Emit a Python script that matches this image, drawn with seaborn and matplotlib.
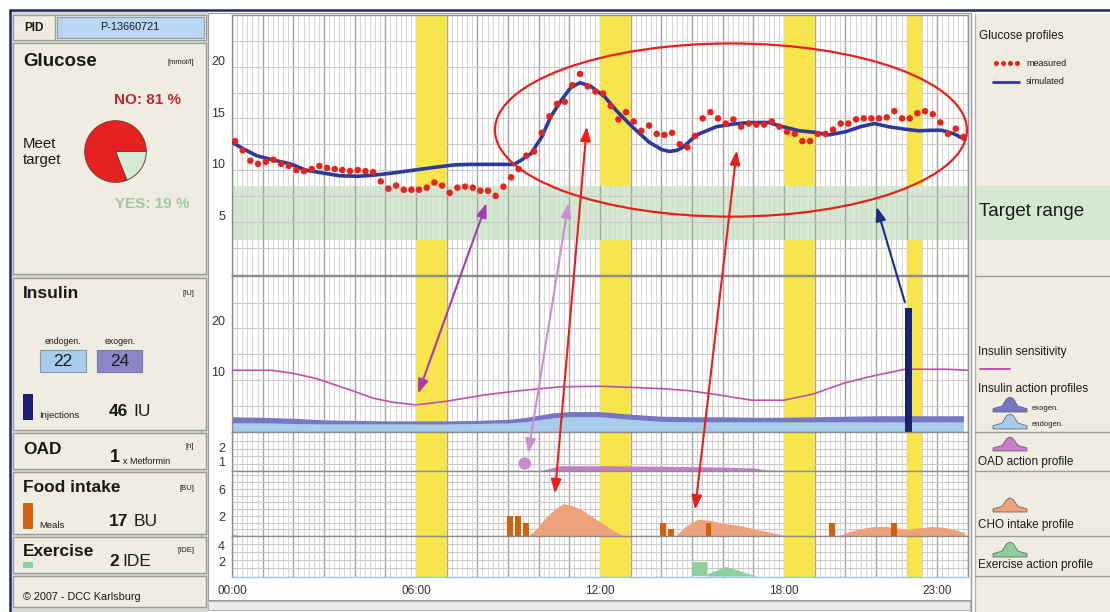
import numpy as np
import matplotlib
matplotlib.use("Agg")
import matplotlib.pyplot as plt
import matplotlib.transforms as mtrans
import seaborn as sns
from matplotlib.patches import Rectangle, Ellipse, Polygon, ConnectionPatch, ArrowStyle
from matplotlib.lines import Line2D

sns.set_theme(style="white")
plt.rcParams["font.family"] = ["Liberation Sans", "DejaVu Sans"]

# ---------------- data ----------------
tick_hours = [0, 6, 12, 18, 23]
tick_labels = ["00:00", "06:00", "12:00", "18:00", "23:00"]

period_start = [6, 12, 18, 22]
period_end = [7, 13, 19, 22.5]

target_low, target_high = 3.2, 8.5

# CGM readings every 15 minutes
meas_time = np.arange(96) * 0.25 + 0.1
meas_glucose = [
    12.8, 11.9, 10.9, 10.6, 10.8, 11.0, 10.6, 10.4, 10.0, 9.9, 10.1, 10.4,
    10.2, 10.1, 10.0, 9.9, 10.0, 9.9, 9.8, 8.9, 8.2, 8.5, 8.1, 8.1,
    8.1, 8.3, 8.8, 8.5, 7.8, 8.3, 8.4, 8.3, 8.0, 8.0, 7.5, 8.4,
    9.3, 10.1, 11.4, 11.8, 13.6, 15.2, 16.4, 16.6, 18.2, 19.3, 18.1, 17.6,
    17.4, 16.2, 14.9, 15.6, 14.7, 13.8, 14.3, 13.5, 13.4, 13.6, 12.5, 12.2,
    13.3, 15.0, 15.6, 15.0, 14.5, 14.9, 14.2, 14.5, 14.4, 14.4, 14.7, 14.2,
    13.7, 13.5, 12.8, 12.8, 13.5, 13.5, 13.9, 14.5, 14.5, 14.9, 15.0, 15.0,
    15.0, 15.1, 15.7, 15.0, 15.0, 15.5, 15.7, 15.4, 14.6, 13.5, 14.0, 13.2,
]

sim_time = [0.05, 0.4, 0.8, 1.3, 1.9, 2.4, 3.0, 3.5, 4.1, 4.6, 5.2, 5.7, 6.2, 6.7,
            7.25, 7.8, 8.35, 9.2, 9.45, 9.75, 10.1, 10.4, 10.75, 11.05, 11.35,
            11.7, 12.15, 12.55, 13.05, 13.6, 14.0, 14.25, 14.5, 14.7, 15.15, 15.8,
            16.35, 16.9, 17.5, 17.95, 18.5, 19.0, 19.45, 20.0, 20.5, 20.95, 21.4,
            21.95, 22.4, 22.8, 23.15, 23.55, 23.9]
sim_glucose = [12.6, 12.0, 11.4, 11.0, 10.6, 10.0, 9.7, 9.45, 9.4, 9.5, 9.7, 9.9,
               10.1, 10.3, 10.5, 10.55, 10.55, 10.55, 11.0, 11.6, 13.2, 15.2, 16.8,
               18.0, 18.45, 18.1, 17.1, 15.7, 14.2, 12.7, 12.0, 11.8, 11.9, 12.2,
               13.4, 14.2, 14.45, 14.6, 14.6, 14.2, 13.8, 13.65, 13.4, 13.7, 14.2,
               14.5, 14.2, 13.95, 13.8, 13.85, 13.85, 13.5, 12.95]

sens_time = [0, 1.3, 2.0, 2.75, 3.85, 4.6, 5.25, 6.0, 7.0, 8.2, 9.3, 10.7, 12.0,
             13.0, 14.0, 14.9, 15.9, 16.95, 18.0, 18.95, 19.95, 20.9, 21.95, 23.3, 24]
sens_value = [11.9, 11.9, 11.3, 10.3, 8.1, 6.5, 5.7, 5.2, 5.9, 7.1, 7.9, 8.7, 8.8,
              8.6, 8.35, 7.95, 7.1, 6.1, 6.1, 7.3, 9.4, 10.8, 12.1, 12.1, 11.9]

ins_time = [0, 1, 2, 3, 4, 5, 6, 7, 8, 9, 9.5, 10, 10.5, 11, 12, 13, 14, 15, 16,
            17, 18, 19, 20, 21, 22, 23, 23.85]
ins_endogen = [1.7, 1.7, 1.6, 1.5, 1.5, 1.5, 1.5, 1.5, 1.6, 1.7, 1.9, 2.3, 2.7,
               2.9, 2.9, 2.4, 2.0, 1.9, 1.9, 1.9, 1.9, 1.9, 1.9, 1.9, 1.9, 1.9, 1.9]
ins_exogen = [1.2, 1.1, 1.0, 0.8, 0.7, 0.6, 0.6, 0.6, 0.6, 0.7, 0.8, 0.9, 1.0,
              1.0, 1.0, 1.0, 1.0, 1.0, 1.0, 0.9, 0.9, 1.0, 1.1, 1.2, 1.2, 1.2, 1.2]

inj_time = [21.95]
inj_dose = [24]

oad_time = [9.55]
oad_dose = [1]
oad_prof_time = [10.0, 10.7, 12.0, 14.0, 16.0, 17.0, 17.5, 18.8]
oad_prof = [0.5, 0.85, 0.85, 0.82, 0.76, 0.7, 0.56, 0.5]

meal_time = [8.97, 9.23, 9.49, 13.96, 14.22, 15.45, 19.47, 21.49]
meal_bu = [3, 3, 2, 2, 1, 2, 2, 2]

cho_time = [0.0, 0.3,
            9.65, 9.9, 10.2, 10.5, 10.8, 11.1, 11.4, 11.7, 12.0, 12.3, 12.6, 12.8,
            14.45, 14.8, 15.2, 15.6, 16.0, 16.5, 17.0, 17.5, 18.1,
            19.75, 20.1, 20.5, 20.9, 21.3, 21.7, 22.0, 22.4, 22.8, 23.2, 23.6, 23.9]
cho_value = [0.35, 0.0,
             0.0, 0.9, 2.6, 3.9, 4.8, 4.5, 3.9, 3.0, 2.1, 1.2, 0.4, 0.0,
             0.0, 1.5, 2.5, 2.3, 1.9, 1.6, 1.1, 0.6, 0.0,
             0.0, 0.6, 1.1, 1.4, 1.4, 1.2, 1.0, 1.2, 1.4, 1.3, 0.9, 0.5]

ex_time = [15.0]
ex_ide = [1.7]
ex_prof_time = [15.5, 16.1, 17.1]
ex_prof = [0.3, 1.2, 0.0]

# ---------------- colours ----------------
C_MEAS = "#e8221c"
C_SIM = "#2b3a9c"
C_YELLOW = "#f6e54c"
C_TARGET = "#d3e9d0"
C_SENS = "#c24fb0"
C_EXO = "#7676c4"
C_ENDO = "#a8cdec"
C_INJ = "#1b2370"
C_OAD = "#c47ccb"
C_MEAL = "#d2620e"
C_CHO = "#eea27c"
C_EX = "#8dcf9d"
C_BEIGE = "#efede2"
C_EDGE = "#9c9c96"
C_TXT = "#1a1a1a"

# ---------------- figure helpers (pixel layout, origin top-left) ----------------
W, H = 1110, 612
fig = plt.figure(figsize=(W / 100, H / 100), dpi=100, facecolor="white")


def fx(x):
    return x / W


def fy(y):
    return 1 - y / H


def rect(x0, y0, x1, y1, fc, ec="none", lw=0.0, z=-2):
    fig.add_artist(Rectangle((fx(x0), fy(y1)), (x1 - x0) / W, (y1 - y0) / H,
                             transform=fig.transFigure, facecolor=fc,
                             edgecolor=ec, linewidth=lw, zorder=z))


def hline(x0, x1, y, color, lw=1.0, z=-1):
    fig.add_artist(Line2D([fx(x0), fx(x1)], [fy(y), fy(y)], transform=fig.transFigure,
                          color=color, lw=lw, zorder=z))


def vline(x, y0, y1, color, lw=1.0, z=-1):
    fig.add_artist(Line2D([fx(x), fx(x)], [fy(y0), fy(y1)], transform=fig.transFigure,
                          color=color, lw=lw, zorder=z))


def txt(x, y, s, size=8, weight="normal", color=C_TXT, ha="left", va="center", **kw):
    fig.text(fx(x), fy(y), s, fontsize=size, fontweight=weight, color=color,
             ha=ha, va=va, zorder=5, **kw)


def hump(x0, y0, x1, y1, color):
    shape = [(0, 0), (0, 0.22), (0.27, 0.4), (0.4, 0.88), (0.5, 1.0), (0.6, 0.88),
             (0.73, 0.4), (1, 0.22), (1, 0)]
    pts = [(fx(x0 + u * (x1 - x0)), fy(y1 - v * (y1 - y0))) for u, v in shape]
    fig.add_artist(Polygon(pts, closed=True, transform=fig.transFigure,
                           facecolor=color, edgecolor="#6a6a6a", lw=0.6, zorder=2))


# ---------------- frame and side columns ----------------
rect(10, 11, 208, 612, "#d8d8d2", z=-3)
rect(208, 13, 971, 600, "white", ec="#9a9a9a", lw=0.8, z=-2.5)
rect(975, 14, 1110, 612, C_BEIGE, z=-2)
vline(971, 14, 612, "#9a9a9a", lw=1.0)
vline(975, 14, 612, "#b4b4ae", lw=1.0)
hline(10, 1110, 10, "#1f2a6e", lw=1.8)
vline(10, 10, 612, "#1f2a6e", lw=1.8)
rect(208, 601, 970, 610, "#ececec", ec="#b5b5b5", lw=0.8)
for yy in [276, 432, 471, 536, 576]:
    hline(975, 1110, yy, "#9c9c96", lw=1.0)

# left column boxes
for (y0, y1) in [(15, 40), (43, 274), (278, 430), (433, 469), (472, 534), (537, 573), (576, 607)]:
    rect(13, y0, 206, y1, C_BEIGE, ec=C_EDGE, lw=1.0)
rect(57, 17, 204, 38, "#b9d6f2", ec="#8aa0b8", lw=0.8, z=-1.5)
vline(55, 15, 40, C_EDGE, lw=1.0)

txt(34, 28, "PID", size=8.5, weight="bold", ha="center")
txt(130, 27, "P-13660721", size=7.8, ha="center")

txt(23, 61, "Glucose", size=13.5, weight="bold")
txt(194, 62, "[mmol/l]", size=5.5, ha="right")
txt(148, 100, "NO: 81 %", size=11, weight="bold", color="#c4262e", ha="center")
txt(23, 144, "Meet", size=10.8)
txt(23, 160, "target", size=10.8)
txt(152, 204, "YES: 19 %", size=11, weight="bold", color="#a3c7a3", ha="center")

ax_pie = fig.add_axes([fx(77), fy(190), 77 / W, 77 / H])
ax_pie.pie([19, 81], colors=["#d7ebd3", "#e42320"], startangle=0, counterclock=False,
           wedgeprops=dict(edgecolor="#7a3a30", linewidth=0.7))

txt(23, 293, "Insulin", size=12.5, weight="bold")
txt(194, 293, "[IU]", size=5.5, ha="right")
txt(63, 342, "endogen.", size=6.3, ha="center")
txt(120, 342, "exogen.", size=6.3, ha="center")
rect(40, 350, 86, 372, C_ENDO, ec="#8a9aa8", lw=0.8, z=-1.5)
rect(97, 350, 142, 372, "#8c86c8", ec="#7a7aa0", lw=0.8, z=-1.5)
txt(63, 361, "22", size=12.5, ha="center")
txt(120, 361, "24", size=12.5, ha="center")
rect(23, 394, 33, 420, C_INJ, z=-1.5)
txt(39, 415, "Injections", size=6.8)
txt(109, 412, "46", size=12.5, weight="bold")
txt(133, 412, "IU", size=12.5)

txt(23, 450, "OAD", size=12.5, weight="bold")
txt(110, 458, "1", size=13, weight="bold")
txt(123, 461, "x Metformin", size=6.5)
txt(185, 447, "[n]", size=5.5)

txt(23, 488, "Food intake", size=12.5, weight="bold")
txt(194, 488, "[BU]", size=5.5, ha="right")
rect(23, 503, 33, 529, C_MEAL, z=-1.5)
txt(39, 525, "Meals", size=6.8)
txt(109, 521, "17", size=12.5, weight="bold")
txt(134, 521, "BU", size=12.5)

txt(23, 551, "Exercise", size=12.5, weight="bold")
txt(109, 562, "2", size=12.5, weight="bold")
txt(122, 562, "IDE", size=12.5)
txt(194, 551, "[IDE]", size=5.5, ha="right")
rect(23, 562, 33, 568, C_EX, z=-1.5)

txt(23, 597, "\u00a9 2007 - DCC Karlsburg", size=7.8)

# ---------------- chart panels ----------------
AX_L, AX_R = 232, 968


def panel(y0, y1, share=None):
    return fig.add_axes([fx(AX_L), fy(y1), (AX_R - AX_L) / W, (y1 - y0) / H], sharex=share)


ax_glu = panel(15, 275)
ax_ins = panel(276, 432, ax_glu)
ax_oad = panel(432, 471, ax_glu)
ax_food = panel(471, 536, ax_glu)
ax_ex = panel(536, 577, ax_glu)
panels = [ax_glu, ax_ins, ax_oad, ax_food, ax_ex]

ylims = [(-0.15, 25.0), (-0.05, 30.15), (0.5, 3.1), (0.0, 9.65), (-0.12, 5.0)]
major_y = [[5, 10, 15, 20], [10, 20], [1, 2], [2, 6], [2, 4]]
minor_y = [[2.5, 7.5, 12.5, 17.5, 22.5], [5, 15, 25], [1.5, 2.5],
           [1, 3, 4, 5, 7, 8, 9], [1, 3]]
label_shift_px = [4.6, 6.8, 0.0, 4.5, -3.0]

for ax, yl, my, mny, dy in zip(panels, ylims, major_y, minor_y, label_shift_px):
    ax.set_facecolor("white")
    ax.set_ylim(*yl)
    ax.set_yticks(my)
    ax.set_yticks(mny, minor=True)
    ax.set_axisbelow(True)
    ax.grid(which="major", axis="x", color="#a4a4a4", lw=1.0)
    ax.grid(which="minor", axis="x", color="#d6d6d6", lw=0.7)
    ax.grid(which="both", axis="y", color="#c9c9c9", lw=0.8)
    ax.tick_params(which="both", length=0, labelleft=False, labelbottom=False)
    for s in ax.spines.values():
        s.set_color("#8c8c8c")
        s.set_linewidth(1.0)
    for v in my:
        ax.annotate(str(v), xy=(0, v), xycoords=("axes fraction", "data"),
                    xytext=(-5, dy * 0.72), textcoords="offset points",
                    ha="right", va="center", fontsize=9, color="#333333",
                    annotation_clip=False)

ax_glu.set_xticks(np.arange(0, 25, 1))
ax_glu.set_xticks(np.arange(0, 24.01, 1 / 6), minor=True)
ax_glu.set_xticklabels([tick_labels[tick_hours.index(h)] if h in tick_hours else ""
                        for h in range(25)])
ax_ex.tick_params(axis="x", which="major", length=4, color="#8c8c8c",
                  labelbottom=True, labelsize=8.5, labelcolor="#333333", pad=1.5)

# coloured baselines
ax_oad.spines["bottom"].set_color("#7cc47c")
ax_food.spines["bottom"].set_color("#e8a070")
ax_ex.spines["bottom"].set_color("#9cc8e8")

# daily periods (yellow)
g0, g1 = ax_glu.get_ylim()
lo_frac = (target_low - g0) / (g1 - g0)
hi_frac = (target_high - g0) / (g1 - g0)
for s, e in zip(period_start, period_end):
    ax_glu.axvspan(s, e, ymin=0, ymax=lo_frac, color=C_YELLOW, lw=0, zorder=1)
    ax_glu.axvspan(s, e, ymin=hi_frac, ymax=1, color=C_YELLOW, lw=0, zorder=1)
    for ax in panels[1:]:
        ax.axvspan(s, e, color=C_YELLOW, lw=0, zorder=1)

# target range
ax_glu.axhspan(target_low, target_high, color=C_TARGET, lw=0, zorder=0.3)
blend = mtrans.blended_transform_factory(fig.transFigure, ax_glu.transData)
fig.add_artist(Rectangle((fx(975), target_low), (1110 - 975) / W, target_high - target_low,
                         transform=blend, facecolor=C_TARGET, edgecolor="none", zorder=-1.5))

# glucose profiles
sns.lineplot(x=sim_time, y=sim_glucose, ax=ax_glu, color=C_SIM, lw=2.6, zorder=3)
sns.scatterplot(x=meas_time, y=meas_glucose, ax=ax_glu, color=C_MEAS, s=22,
                edgecolor="none", zorder=4)
ax_glu.add_patch(Ellipse((16.27, 13.87), 15.39, 16.75, fill=False, edgecolor="#e8201c",
                         lw=1.6, zorder=5))

# insulin
endo = np.array(ins_endogen)
exo = np.array(ins_exogen)
ax_ins.fill_between(ins_time, 0, endo, color=C_ENDO, lw=0, zorder=2)
ax_ins.fill_between(ins_time, endo, endo + exo, color=C_EXO, lw=0, zorder=2)
sns.lineplot(x=sens_time, y=sens_value, ax=ax_ins, color=C_SENS, lw=1.2, zorder=3)
ax_ins.bar(inj_time, inj_dose, width=0.22, align="edge", color=C_INJ, lw=0, zorder=4)

# oral antidiabetics
ax_oad.fill_between(oad_prof_time, 0, oad_prof, color=C_OAD, lw=0, zorder=2)
sns.scatterplot(x=oad_time, y=oad_dose, ax=ax_oad, color="#c98bd0", s=80,
                edgecolor="none", zorder=4, clip_on=False)

# food intake
ax_food.fill_between(cho_time, 0, cho_value, color=C_CHO, lw=0, zorder=2)
ax_food.bar(meal_time, meal_bu, width=0.18, align="edge", color=C_MEAL, lw=0, zorder=3)

# exercise
ax_ex.bar(ex_time, ex_ide, width=0.5, align="edge", color=C_EX, lw=0, zorder=3)
ax_ex.fill_between(ex_prof_time, 0, ex_prof, color=C_EX, lw=0, zorder=2)

for ax in panels:
    ax.set_xlim(0, 24)
    ax.set_xlabel("")
    ax.set_ylabel("")

# cause/effect links between panels
def link(axA, ptA, axB, ptB, color, style):
    cp = ConnectionPatch(xyA=ptA, coordsA=axA.transData, xyB=ptB, coordsB=axB.transData,
                         arrowstyle=ArrowStyle(style, head_length=0.6, head_width=0.22),
                         mutation_scale=14, color=color, lw=1.5, zorder=10)
    fig.add_artist(cp)


link(ax_glu, (8.3, 6.8), ax_ins, (6.07, 7.4), "#a43cb8", "<|-|>")
link(ax_glu, (10.97, 6.8), ax_oad, (9.66, 1.69), "#cc8ed2", "<|-|>")
link(ax_glu, (11.57, 14.2), ax_food, (10.53, 6.3), "#e8201c", "<|-|>")
link(ax_glu, (16.46, 11.9), ax_food, (15.1, 3.9), "#e8201c", "<|-|>")
link(ax_ins, (21.94, 25.1), ax_glu, (21.02, 6.45), "#1e2a86", "-|>")

# ---------------- legend column ----------------
txt(979, 36, "Glucose profiles", size=8.5)
fig.add_artist(Line2D([fx(996), fx(1003), fx(1010), fx(1017)], [fy(63)] * 4,
                      transform=fig.transFigure, ls="none", marker="o", ms=2.6,
                      color=C_MEAS, zorder=3))
txt(1026, 63, "measured", size=6.5)
hline(993, 1019, 82, C_SIM, lw=2.0, z=3)
txt(1026, 82, "simulated", size=6.5)
txt(979, 212, "Target range", size=13.5)

txt(978, 352, "Insulin sensitivity", size=8.5)
hline(980, 1010, 369, C_SENS, lw=1.4, z=3)
txt(978, 389, "Insulin action profiles", size=8.5)
hump(993, 397, 1027, 412, C_EXO)
txt(1032, 408, "exogen.", size=5.5)
hump(993, 414, 1027, 429, C_ENDO)
txt(1032, 425, "endogen.", size=5.5)
hump(993, 437, 1027, 451, C_OAD)
txt(978, 462, "OAD action profile", size=8.5)
hump(993, 498, 1027, 512, C_CHO)
txt(978, 525, "CHO intake profile", size=8.5)
hump(993, 542, 1027, 557, C_EX)
txt(978, 565, "Exercise action profile", size=8.5)

fig.savefig("out.png", dpi=100, facecolor=fig.get_facecolor())
